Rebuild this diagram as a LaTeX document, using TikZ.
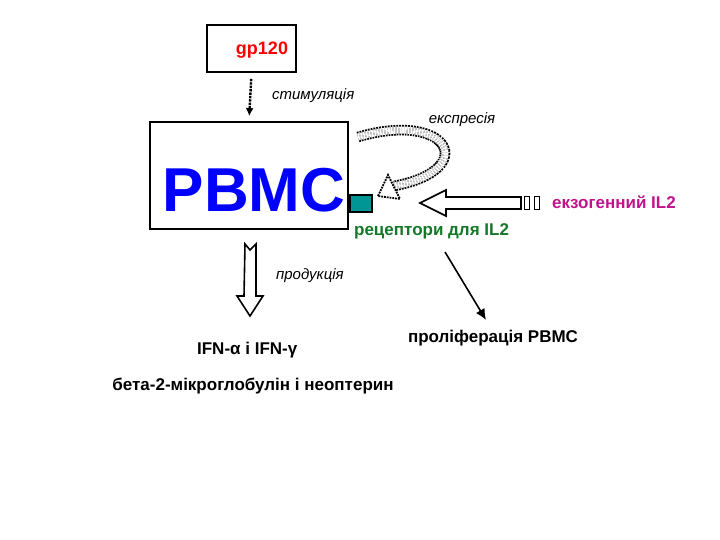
\documentclass[tikz,border=0pt]{standalone}
\usepackage{fontspec}
\setmainfont{Liberation Sans}
\usetikzlibrary{arrows.meta}
\definecolor{tealr}{RGB}{0,150,150}
\definecolor{grn}{RGB}{20,120,40}
\definecolor{mag}{RGB}{190,20,140}
\begin{document}
\begin{tikzpicture}[x=1pt,y=-1pt,line width=1.6pt,
  box/.style={draw,line width=1.8pt,inner sep=0},
  lbl/.style={font=\itshape\fontsize{15}{17}\selectfont},
  bold/.style={font=\bfseries\fontsize{17}{19}\selectfont}]
\useasboundingbox (0,0) rectangle (720,540);
\node[box,minimum width=89pt,minimum height=47pt] (gp) at (251.5,48.5) {};
\node[font=\bfseries\fontsize{18}{20}\selectfont,text=red] (gpt) at (262,50) {gp120};
\node[box,minimum width=198pt,minimum height=107pt] (pbmc) at (249,175.5) {};
\node[font=\bfseries\fontsize{62}{66}\selectfont,text=blue] (pt) at (254,190) {PBMC};
\node[lbl,anchor=west] (st) at (268,96) {стимуляція};
\draw[densely dotted,line width=2.4pt,-{Latex[length=8pt,width=8pt]},shorten <=6pt,shorten >=5pt] (gp.south) -- (pbmc.north);
\node[lbl] (ex) at (462,120) {експресія};
\draw[densely dotted,line width=1.8pt,double distance=7pt] (358,137) .. controls (450,110) and (480,170) .. (394,186);
\draw[densely dotted,line width=1.8pt,fill=white] (378,196) -- (388,175) -- (400,199) -- cycle;
\node[draw,fill=tealr,minimum width=22pt,minimum height=17pt,inner sep=0] (rec) at (361,203.5) {};
\draw[fill=white] (420,203) -- (446,190) -- (446,197) -- (521,197) -- (521,209) -- (446,209) -- (446,216) -- cycle;
\node[draw,minimum width=5pt,minimum height=13pt,inner sep=0] (r1) at (527,203) {};
\node[draw,minimum width=5pt,minimum height=13pt,inner sep=0] (r2) at (537,203) {};
\node[bold,text=mag,anchor=west] (exo) at (548,202) {екзогенний IL2};
\node[bold,text=grn,anchor=west] (rt) at (350,231) {рецептори для IL2};
\draw[fill=white] (245,244) -- (250,250) -- (256,244) -- (256,296) -- (263,296) -- (250,316) -- (237,296) -- (244,296) -- cycle;
\node[lbl,anchor=west] (pr) at (272,276) {продукція};
\node[bold,anchor=west] (ifn) at (193,350) {IFN-α і IFN-γ};
\node[bold] (beta) at (253,386) {бета-2-мікроглобулін і неоптерин};
\coordinate (a0) at (445,252);
\node[bold] (prol) at (493,338) {проліферація PBMC};
\draw[-{Latex[length=11pt,width=10pt]}] (a0) -- (486,320);
\end{tikzpicture}
\end{document}
